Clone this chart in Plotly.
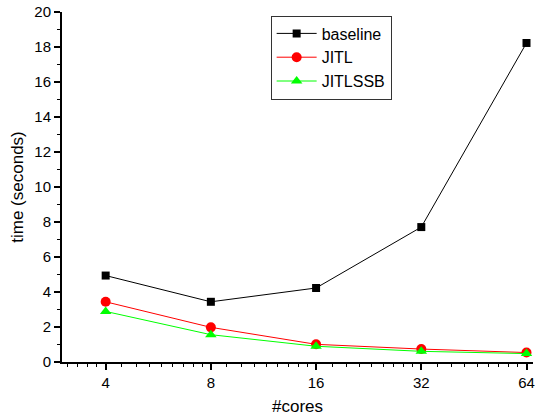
import math
import plotly.graph_objects as go

# Execution time vs. number of cores
cores = [4, 8, 16, 32, 64]
baseline = [4.94, 3.44, 4.23, 7.71, 18.23]
jitl = [3.44, 1.98, 1.01, 0.74, 0.54]
jitlssb = [2.89, 1.56, 0.90, 0.61, 0.48]

x_tick_labels = ["4", "8", "16", "32", "64"]

FONT = "Liberation Sans, Arial, sans-serif"

fig = go.Figure()
fig.add_trace(go.Scatter(
    x=cores, y=baseline, name="baseline", mode="lines+markers",
    line=dict(color="#000000", width=1),
    marker=dict(symbol="square", size=8, color="#000000"),
))
fig.add_trace(go.Scatter(
    x=cores, y=jitl, name="JITL", mode="lines+markers",
    line=dict(color="#ff0000", width=1),
    marker=dict(symbol="circle", size=10, color="#ff0000"),
))
fig.add_trace(go.Scatter(
    x=cores, y=jitlssb, name="JITLSSB", mode="lines+markers",
    line=dict(color="#00ff00", width=1),
    marker=dict(symbol="triangle-up", size=10, color="#00ff00"),
))

# minor ticks: 8 per octave, evenly spaced in value
minor_vals = []
for lo in [2, 4, 8, 16, 32, 64]:
    for k in range(1, 9):
        minor_vals.append(lo + lo * k / 9)

fig.update_layout(
    width=535, height=417,
    margin=dict(l=62, r=0, t=12, b=55),
    paper_bgcolor="white", plot_bgcolor="white",
    font=dict(family=FONT, size=15, color="#000000"),
    showlegend=True,
    legend=dict(
        x=0.443, y=0.99, xanchor="left", yanchor="top",
        bordercolor="#333333", borderwidth=1, bgcolor="white",
        font=dict(family=FONT, size=16),
        tracegroupgap=0, itemwidth=40,
    ),
    xaxis=dict(
        type="log",
        range=[math.log10(3.0), math.log10(66.8)],
        tickmode="array", tickvals=cores, ticktext=x_tick_labels,
        ticks="outside", ticklen=6, tickwidth=1.5, tickcolor="#000000",
        ticklabeloverflow="allow",
        showline=True, linecolor="#000000", linewidth=2,
        showgrid=False, zeroline=False,
        minor=dict(tickmode="array", tickvals=minor_vals, ticks="outside",
                   ticklen=3, tickwidth=1.2, tickcolor="#000000", showgrid=False),
        title=dict(text="#cores", font=dict(family=FONT, size=17), standoff=10),
        tickfont=dict(family=FONT, size=15),
    ),
    yaxis=dict(
        range=[0, 20],
        tickmode="linear", tick0=0, dtick=2,
        ticks="outside", ticklen=6, tickwidth=1.5, tickcolor="#000000",
        showline=True, linecolor="#000000", linewidth=2,
        showgrid=False, zeroline=False,
        minor=dict(dtick=1, ticks="outside", ticklen=3, tickwidth=1.2,
                   tickcolor="#000000", showgrid=False),
        title=dict(text="time (seconds)", font=dict(family=FONT, size=17), standoff=6),
        tickfont=dict(family=FONT, size=15),
    ),
)

fig.update_traces(cliponaxis=False)

fig.write_html("out.html")
